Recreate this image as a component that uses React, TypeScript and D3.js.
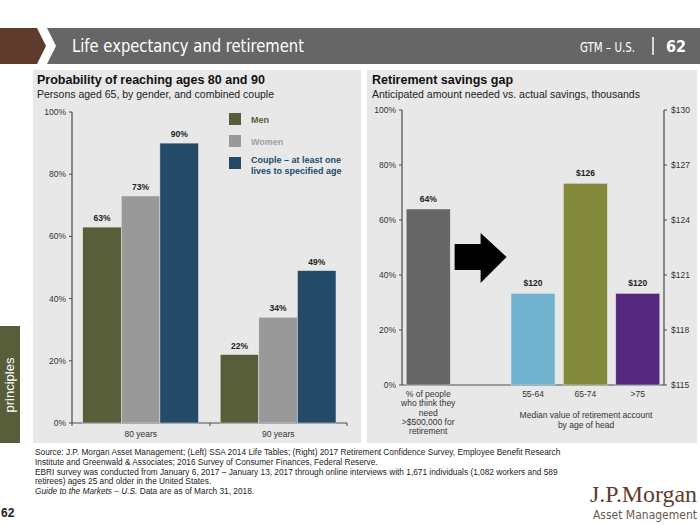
import React from "react";
import * as d3 from "d3";

const ageCategories = ["80 years", "90 years"];
const seriesNames = ["Men", "Women", "Couple"];
const menValues = [63, 22];
const womenValues = [73, 34];
const coupleValues = [90, 49];
const leftTicks = [0, 20, 40, 60, 80, 100];

const gapCategories = ["need", "arrow", "55-64", "65-74", ">75"];
const needPct = 64;
const savingsCats = ["55-64", "65-74", ">75"];
const savingsValues = [120, 126, 120];
const rightPctTicks = [0, 20, 40, 60, 80, 100];
const rightDollarTicks = [115, 118, 121, 124, 127, 130];

const sourceLines = [
  "Source: J.P. Morgan Asset Management; (Left) SSA 2014 Life Tables; (Right) 2017 Retirement Confidence Survey, Employee Benefit Research",
  "Institute and Greenwald & Associates; 2016 Survey of Consumer Finances, Federal Reserve.",
  "EBRI survey was conducted from January 6, 2017 – January 13, 2017 through online interviews with 1,671 individuals (1,082 workers and 589",
  "retirees) ages 25 and older in the United States.",
];

const seriesColors: Record<string, string> = { Men: "#585e3a", Women: "#999999", Couple: "#244a69" };
const savingsColors = ["#70b1cd", "#848a3b", "#57297e"];

const FONT = "Arial, 'Liberation Sans', Helvetica, sans-serif";
const NARROW = "'Liberation Sans Narrow', 'DejaVu Sans Condensed', Arial, sans-serif";

export default function App() {
  // Left chart scales
  const xL = d3.scaleBand<string>().domain(ageCategories).range([72, 347]);
  const xL1 = d3.scaleBand<string>().domain(seriesNames).range([10.7, 126.5]);
  const yL = d3.scaleLinear().domain([0, 100]).range([423, 112]);
  const seriesData: Record<string, number[]> = { Men: menValues, Women: womenValues, Couple: coupleValues };

  // Right chart scales
  const xR = d3.scaleBand<string>().domain(gapCategories).range([402, 664]).paddingInner(0.16).paddingOuter(0.08);
  const yRp = d3.scaleLinear().domain([0, 100]).range([385, 110]);
  const yRd = d3.scaleLinear().domain([115, 130]).range([385, 110]);

  const axisColor = "#4a4a4a";
  const tickText = "#333";

  const arrowCx = (xR("arrow") as number) + xR.bandwidth() / 2;
  const arrowCy = 257;

  return (
    <svg width={700} height={525} style={{ position: "absolute", left: 0, top: 0, background: "#fff" }} fontFamily={FONT}>
      {/* Header */}
      <polygon points="0,28 37,28 46,46 37,64 0,64" fill="#5e3b2c" />
      <polygon points="47,28 700,28 700,64 47,64 56,46" fill="#666666" />
      <text x={72} y={52} fill="#fff" fontSize={18} fontFamily={NARROW} textLength={232} lengthAdjust="spacingAndGlyphs">Life expectancy and retirement</text>
      <text x={580} y={52} fill="#fff" fontSize={14} fontFamily={NARROW} textLength={55} lengthAdjust="spacingAndGlyphs">GTM – U.S.</text>
      <line x1={653} x2={653} y1={37} y2={55} stroke="#fff" strokeWidth={1.5} />
      <text x={686} y={52} fill="#fff" fontSize={16} fontFamily={NARROW} textAnchor="end" fontWeight="bold">62</text>

      {/* Panels */}
      <rect x={33} y={70} width={328} height={373} fill="#e8e8e8" />
      <rect x={367} y={70} width={330} height={373} fill="#e8e8e8" />

      {/* Side tab */}
      <rect x={0} y={326} width={20} height={117} fill="#585e3a" />
      <text transform="translate(14,385) rotate(-90)" fill="#fff" fontSize={13} textAnchor="middle">principles</text>

      {/* Left panel titles */}
      <text x={37} y={84} fontSize={12.5} fontWeight="bold" fill="#111">Probability of reaching ages 80 and 90</text>
      <text x={37} y={98} fontSize={10.5} fill="#222">Persons aged 65, by gender, and combined couple</text>

      {/* Left axes */}
      <line x1={72} x2={72} y1={yL(100)} y2={yL(0)} stroke={axisColor} strokeWidth={1.2} />
      <line x1={72} x2={347} y1={yL(0)} y2={yL(0)} stroke={axisColor} strokeWidth={1.2} />
      {leftTicks.map((t) => (
        <g key={"lt" + t}>
          <line x1={69} x2={72} y1={yL(t)} y2={yL(t)} stroke={axisColor} />
          <text x={66} y={yL(t) + 3} fontSize={8.5} textAnchor="end" fill={tickText}>{t}%</text>
        </g>
      ))}
      {[72, 210, 347].map((x) => (
        <line key={"bx" + x} x1={x} x2={x} y1={yL(0)} y2={yL(0) + 3} stroke={axisColor} />
      ))}
      {ageCategories.map((c) => (
        <text key={"cl" + c} x={(xL(c) as number) + xL.bandwidth() / 2} y={437} fontSize={8.5} textAnchor="middle" fill={tickText}>{c}</text>
      ))}

      {/* Left bars */}
      {ageCategories.map((c, i) =>
        seriesNames.map((s) => {
          const v = seriesData[s][i];
          const x = (xL(c) as number) + (xL1(s) as number);
          return (
            <g key={c + s}>
              <rect x={x} y={yL(v)} width={xL1.bandwidth()} height={yL(0) - yL(v)} fill={seriesColors[s]} stroke="#e8e8e8" strokeWidth={0.5} />
              <text x={x + xL1.bandwidth() / 2} y={yL(v) - 6} fontSize={8.5} fontWeight="bold" textAnchor="middle" fill="#222">{v}%</text>
            </g>
          );
        })
      )}

      {/* Legend */}
      <rect x={229} y={113} width={12} height={12} fill={seriesColors.Men} />
      <text x={251} y={123} fontSize={9} fontWeight="bold" fill="#585e3a">Men</text>
      <rect x={229} y={135} width={12} height={12} fill={seriesColors.Women} />
      <text x={251} y={145} fontSize={9} fontWeight="bold" fill="#a0a0a0">Women</text>
      <rect x={229} y={157} width={12} height={12} fill={seriesColors.Couple} />
      <text x={251} y={163} fontSize={9} fontWeight="bold" fill="#244a69">Couple – at least one</text>
      <text x={251} y={174} fontSize={9} fontWeight="bold" fill="#244a69">lives to specified age</text>

      {/* Right panel titles */}
      <text x={372} y={84} fontSize={12.5} fontWeight="bold" fill="#111">Retirement savings gap</text>
      <text x={372} y={98} fontSize={10.5} fill="#222">Anticipated amount needed vs. actual savings, thousands</text>

      {/* Right axes */}
      <line x1={402} x2={402} y1={yRp(100)} y2={yRp(0)} stroke={axisColor} strokeWidth={1.2} />
      <line x1={664} x2={664} y1={yRd(130)} y2={yRd(115)} stroke={axisColor} strokeWidth={1.2} />
      <line x1={402} x2={664} y1={yRp(0)} y2={yRp(0)} stroke={axisColor} strokeWidth={1.2} />
      {rightPctTicks.map((t) => (
        <g key={"rp" + t}>
          <line x1={399} x2={402} y1={yRp(t)} y2={yRp(t)} stroke={axisColor} />
          <text x={396} y={yRp(t) + 3} fontSize={8.5} textAnchor="end" fill={tickText}>{t}%</text>
        </g>
      ))}
      {rightDollarTicks.map((t) => (
        <g key={"rd" + t}>
          <line x1={664} x2={667} y1={yRd(t)} y2={yRd(t)} stroke={axisColor} />
          <text x={671} y={yRd(t) + 3} fontSize={8.5} textAnchor="start" fill={tickText}>${t}</text>
        </g>
      ))}

      {/* Right bars */}
      <rect x={xR("need")} y={yRp(needPct)} width={xR.bandwidth()} height={yRp(0) - yRp(needPct)} fill="#666666" stroke="#e8e8e8" strokeWidth={0.5} />
      <text x={(xR("need") as number) + xR.bandwidth() / 2} y={yRp(needPct) - 7} fontSize={8.5} fontWeight="bold" textAnchor="middle" fill="#222">{needPct}%</text>
      {savingsCats.map((c, i) => {
        const v = savingsValues[i];
        const x = xR(c) as number;
        return (
          <g key={"s" + c}>
            <rect x={x} y={yRd(v)} width={xR.bandwidth()} height={yRd(115) - yRd(v)} fill={savingsColors[i]} stroke="#e8e8e8" strokeWidth={0.5} />
            <text x={x + xR.bandwidth() / 2} y={yRd(v) - 7} fontSize={8.5} fontWeight="bold" textAnchor="middle" fill="#222">${v}</text>
            <text x={x + xR.bandwidth() / 2} y={397} fontSize={8.5} textAnchor="middle" fill={tickText}>{c}</text>
          </g>
        );
      })}

      {/* Arrow */}
      <polygon
        points={[
          [arrowCx - 26, arrowCy - 13],
          [arrowCx, arrowCy - 13],
          [arrowCx, arrowCy - 24],
          [arrowCx + 26, arrowCy],
          [arrowCx, arrowCy + 26],
          [arrowCx, arrowCy + 13],
          [arrowCx - 26, arrowCy + 13],
        ].map((p) => p.join(",")).join(" ")}
        fill="#000"
      />

      {/* Right category labels */}
      {["% of people", "who think they", "need", ">$500,000 for", "retirement"].map((l, i) => (
        <text key={"nl" + i} x={(xR("need") as number) + xR.bandwidth() / 2} y={397 + i * 9.3} fontSize={8.5} textAnchor="middle" fill={tickText}>{l}</text>
      ))}
      <text x={586} y={418} fontSize={8.5} textAnchor="middle" fill={tickText}>Median value of retirement account</text>
      <text x={586} y={428} fontSize={8.5} textAnchor="middle" fill={tickText}>by age of head</text>

      {/* Footer */}
      {sourceLines.map((l, i) => (
        <text key={"src" + i} x={35} y={455 + i * 9.8} fontSize={8.3} fill="#222">{l}</text>
      ))}
      <text x={35} y={494} fontSize={8.3} fill="#222">
        <tspan fontStyle="italic">Guide to the Markets – U.S.</tspan> Data are as of March 31, 2018.
      </text>
      <text x={1} y={517} fontSize={12} fontWeight="bold" fill="#222">62</text>
      <text x={590} y={502} fontSize={24} fill="#5e3b2c" fontFamily="'Liberation Serif', 'DejaVu Serif', serif" textLength={107} lengthAdjust="spacingAndGlyphs">J.P.Morgan</text>
      <text x={697} y={519} fontSize={12} textAnchor="end" fill="#6b5a50" fontFamily={NARROW}>Asset Management</text>
    </svg>
  );
}
